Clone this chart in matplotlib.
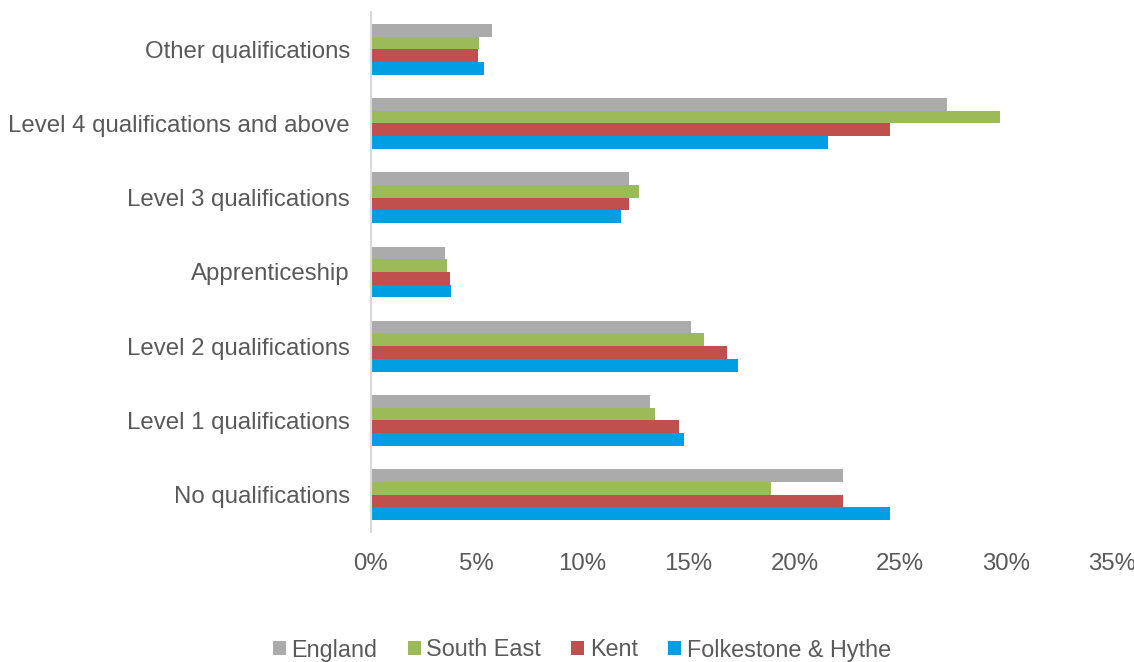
import numpy as np
import matplotlib
matplotlib.use('Agg')
import matplotlib.pyplot as plt
from matplotlib.ticker import FuncFormatter

plt.rcParams['font.family'] = ['Liberation Sans', 'DejaVu Sans']

# categories from bottom to top
categories = ['No qualifications', 'Level 1 qualifications', 'Level 2 qualifications',
              'Apprenticeship', 'Level 3 qualifications',
              'Level 4 qualifications and above', 'Other qualifications']
england = [22.3, 13.2, 15.1, 3.5, 12.2, 27.2, 5.7]
south_east = [18.9, 13.4, 15.75, 3.6, 12.65, 29.7, 5.1]
kent = [22.3, 14.55, 16.8, 3.75, 12.2, 24.5, 5.05]
folkestone = [24.5, 14.8, 17.35, 3.8, 11.8, 21.6, 5.35]

series = [('England', england, '#ABABAB'),
          ('South East', south_east, '#9BBB59'),
          ('Kent', kent, '#C0504D'),
          ('Folkestone & Hythe', folkestone, '#009FE3')]

fig = plt.figure(figsize=(11.34, 6.62), dpi=100)
ax = fig.add_axes([0.327, 0.1967, 0.6536, 0.785])

y = np.arange(len(categories))
h = 0.171
offsets = [1.5, 0.5, -0.5, -1.5]
for (name, vals, col), off in zip(series, offsets):
    ax.barh(y + off * h, vals, height=h, color=col, label=name)

ax.set_xlim(0, 35)
ax.set_ylim(-0.5, 6.5)
ax.set_xticks(np.arange(0, 36, 5))
ax.xaxis.set_major_formatter(FuncFormatter(lambda v, p: '%d%%' % v))
ax.set_yticks(y)
ax.set_yticklabels(categories)
ax.tick_params(axis='both', length=0, labelsize=17.3, labelcolor='#595959')
ax.tick_params(axis='x', pad=15)
ax.tick_params(axis='y', pad=15)
for s in ['top', 'right', 'bottom']:
    ax.spines[s].set_visible(False)
ax.spines['left'].set_color('#D9D9D9')
ax.spines['left'].set_linewidth(1.5)

leg = fig.legend(loc='center', bbox_to_anchor=(582 / 1134, 1 - 650 / 662), ncol=4, frameon=False,
                 fontsize=16.8, handlelength=0.55, handleheight=0.55, handletextpad=0.25,
                 columnspacing=1.3)
for t in leg.get_texts():
    t.set_color('#595959')

fig.savefig('out.png', dpi=100)
